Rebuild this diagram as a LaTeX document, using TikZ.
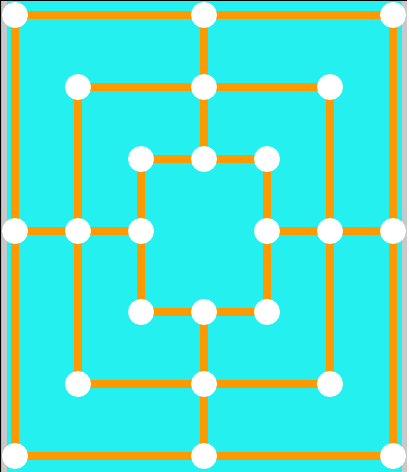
\documentclass[tikz,border=0pt]{standalone}
\usetikzlibrary{backgrounds}
\definecolor{boardcyan}{RGB}{36,240,240}
\definecolor{lineorange}{RGB}{255,153,0}
\definecolor{edgegray}{RGB}{200,200,200}
\tikzset{
  spot/.style={circle,fill=white,draw=none,minimum size=26pt,inner sep=0pt},
  bar/.style={draw=lineorange,line width=8pt},
}
\begin{document}
\begin{tikzpicture}[x=1pt,y=-1pt]
\useasboundingbox (0,0) rectangle (409,472);
\begin{pgfonlayer}{background}
\fill[white] (0,0) rectangle (409,472);
\fill[boardcyan] (1,1) rectangle (407,472);
\fill[edgegray] (2,1) rectangle (7,472);
\fill[edgegray] (402,1) rectangle (407,472);
\draw[black,line width=1pt] (0.5,472) -- (0.5,0.5) -- (407,0.5);
\end{pgfonlayer}
% outer square
\node[spot] (oa) at (15,15) {};
\node[spot] (ob) at (204,15) {};
\node[spot] (oc) at (393,15) {};
\node[spot] (od) at (393,231) {};
\node[spot] (oe) at (393,456) {};
\node[spot] (of) at (204,456) {};
\node[spot] (og) at (15,456) {};
\node[spot] (oh) at (15,231) {};
% middle square
\node[spot] (ma) at (78,87) {};
\node[spot] (mb) at (204,87) {};
\node[spot] (mc) at (330,87) {};
\node[spot] (md) at (330,231) {};
\node[spot] (me) at (330,384) {};
\node[spot] (mf) at (204,384) {};
\node[spot] (mg) at (78,384) {};
\node[spot] (mh) at (78,231) {};
% inner square
\node[spot] (ia) at (141,159) {};
\node[spot] (ib) at (204,159) {};
\node[spot] (ic) at (267,159) {};
\node[spot] (id) at (267,231) {};
\node[spot] (ie) at (267,312) {};
\node[spot] (if) at (204,312) {};
\node[spot] (ig) at (141,312) {};
\node[spot] (ih) at (141,231) {};
\begin{pgfonlayer}{background}
\draw[bar] (oa.center) -- (oc.center) -- (oe.center) -- (og.center) -- cycle;
\draw[bar] (ma.center) -- (mc.center) -- (me.center) -- (mg.center) -- cycle;
\draw[bar] (ia.center) -- (ic.center) -- (ie.center) -- (ig.center) -- cycle;
\draw[bar] (ob.center) -- (ib.center);
\draw[bar] (of.center) -- (if.center);
\draw[bar] (oh.center) -- (ih.center);
\draw[bar] (od.center) -- (id.center);
\end{pgfonlayer}
\end{tikzpicture}
\end{document}
